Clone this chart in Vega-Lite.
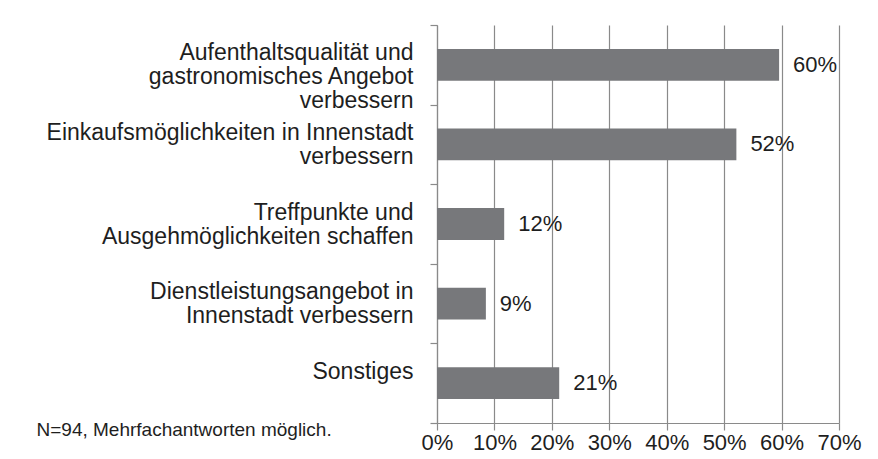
{
  "$schema": "https://vega.github.io/schema/vega-lite/v6.json",
  "width": 402,
  "height": 398,
  "autosize": {"type": "none"},
  "padding": {"left": 437, "top": 25, "right": 39, "bottom": 36},
  "background": "white",
  "config": {"view": {"stroke": null}, "font": "Liberation Sans"},
  "data": {
    "values": [
      {"item": "Aufenthaltsqualität und|gastronomisches Angebot|verbessern", "share": 0.5957},
      {"item": "Einkaufsmöglichkeiten in Innenstadt|verbessern", "share": 0.5213},
      {"item": "Treffpunkte und|Ausgehmöglichkeiten schaffen", "share": 0.117},
      {"item": "Dienstleistungsangebot in|Innenstadt verbessern", "share": 0.0851},
      {"item": "Sonstiges", "share": 0.2128}
    ]
  },
  "encoding": {
    "y": {
      "field": "item",
      "type": "nominal",
      "sort": null,
      "scale": {"paddingInner": 0, "paddingOuter": 0},
      "axis": {
        "title": null,
        "labelExpr": "split(datum.label, '|')",
        "labelAlign": "right",
        "labelBaseline": "middle",
        "labelFontSize": 23,
        "labelLineHeight": 24,
        "labelOffset": -12,
        "labelColor": "#1e1e1e",
        "labelLimit": 0,
        "labelPadding": 17,
        "tickBand": "extent",
        "tickSize": 7,
        "tickColor": "#8a8a8a",
        "tickWidth": 1.2,
        "domainColor": "#8a8a8a",
        "domainWidth": 1.2
      }
    },
    "x": {
      "field": "share",
      "type": "quantitative",
      "scale": {"domain": [0, 0.7], "nice": false},
      "axis": {
        "values": [0, 0.1, 0.2, 0.3, 0.4, 0.5, 0.6, 0.7],
        "format": ".0%",
        "grid": true,
        "gridColor": "#8a8a8a",
        "gridWidth": 1.2,
        "tickSize": 7,
        "tickColor": "#8a8a8a",
        "tickWidth": 1.2,
        "domainColor": "#8a8a8a",
        "domainWidth": 1.2,
        "labelFontSize": 22,
        "labelColor": "#1e1e1e",
        "labelPadding": 2,
        "labelFlush": false,
        "labelOverlap": false,
        "title": "N=94, Mehrfachantworten möglich.",
        "titleX": -401,
        "titleY": 12,
        "titleAlign": "left",
        "titleBaseline": "alphabetic",
        "titleAngle": 0,
        "titleFontSize": 19,
        "titleFontWeight": "normal",
        "titleColor": "#1e1e1e"
      }
    }
  },
  "layer": [
    {"mark": {"type": "bar", "color": "#77787b", "height": {"band": 0.4}}},
    {
      "mark": {"type": "text", "align": "left", "baseline": "middle", "dx": 14, "fontSize": 22, "color": "#1e1e1e"},
      "encoding": {"text": {"field": "share", "type": "quantitative", "format": ".0%"}}
    }
  ]
}
